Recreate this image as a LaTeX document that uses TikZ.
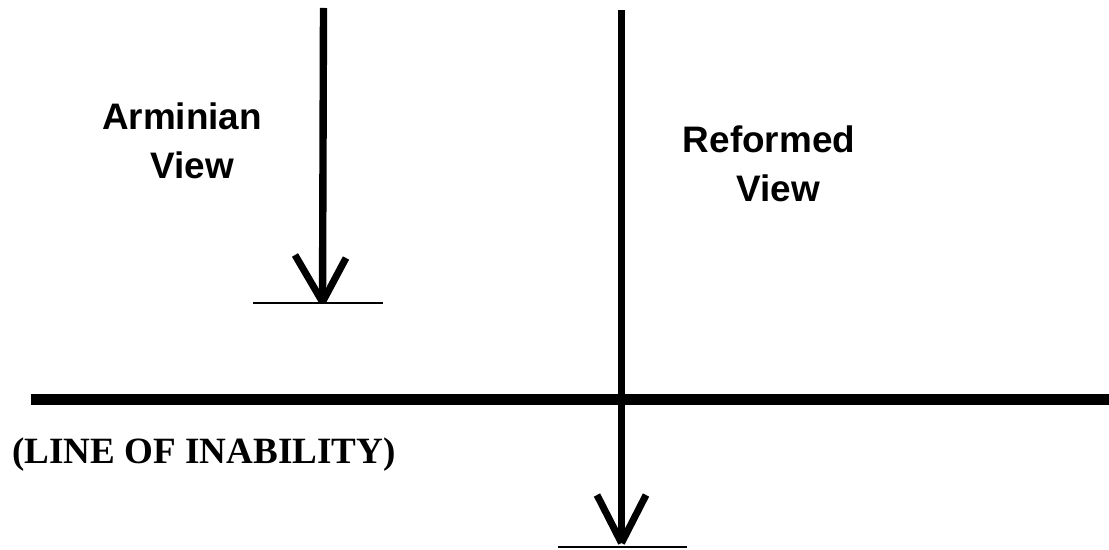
\documentclass[tikz,border=0pt]{standalone}
\usepackage{fontspec}
\setmainfont{Liberation Sans}
\newfontfamily\serifbold{Liberation Serif}
\usetikzlibrary{positioning}

\begin{document}
\begin{tikzpicture}[
    x=0.02cm, y=-0.02cm,
    shaft/.style={line width=4.2pt},
    barb/.style={line width=4pt},
    ground/.style={line width=1.1pt},
    inability/.style={line width=5.8pt},
    viewlabel/.style={font=\fontsize{21}{27.8}\selectfont\bfseries, align=center, inner sep=0pt}
]
\useasboundingbox (0,0) rectangle (1109,550);

% Line of inability
\coordinate (lineL) at (31,399.5);
\coordinate (lineR) at (1109,399.5);
\draw[inability] (lineL) -- (lineR);
\node[anchor=base west, inner sep=0pt, font=\serifbold\fontsize{21.1}{25}\selectfont\bfseries] (inability) at (12,463.5) {(LINE OF INABILITY)};

% Arminian view
\coordinate (armTop) at (323.5,8);
\coordinate (armTip) at (322.5,302);
\draw[shaft] (armTop) -- (armTip);
\draw[barb] (295,255) -- (armTip);
\draw[barb] (346,258) -- (armTip);
\coordinate (armGroundL) at (253,303);
\coordinate (armGroundR) at (383,303);
\draw[ground] (armGroundL) -- (armGroundR);
\node[viewlabel] (arminian) at (182,140.7) {Arminian\\\hspace*{0.4cm}View};

% Reformed view
\coordinate (refTop) at (621.5,10);
\coordinate (refTip) at (621.5,543);
\draw[shaft] (refTop) -- (refTip);
\draw[barb] (597,495) -- (refTip);
\draw[barb] (646,495) -- (refTip);
\coordinate (refGroundL) at (558,547);
\coordinate (refGroundR) at (687,547);
\draw[ground] (refGroundL) -- (refGroundR);
\node[viewlabel] (reformed) at (769,164.2) {Reformed\\\hspace*{0.36cm}View};

\end{tikzpicture}
\end{document}
